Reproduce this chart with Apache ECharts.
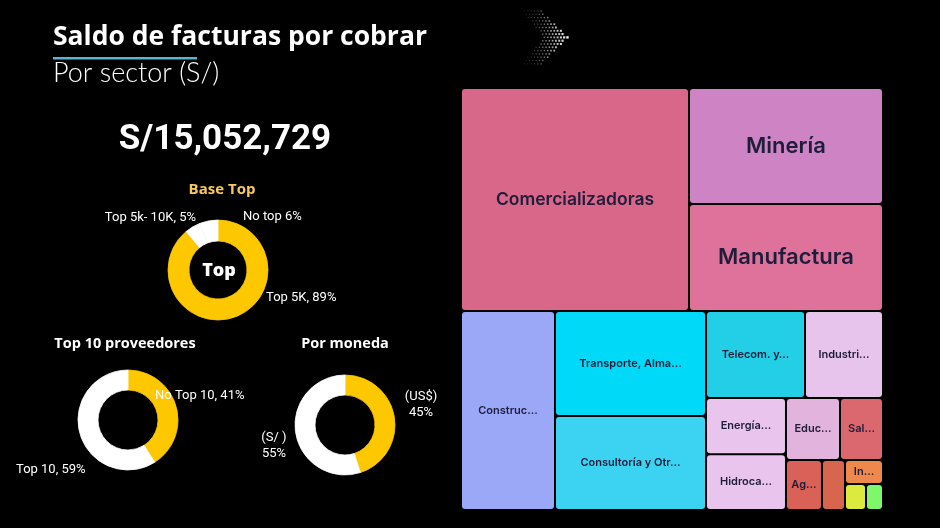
<!DOCTYPE html>
<html><head><meta charset="utf-8">
<script src="https://cdn.jsdelivr.net/npm/echarts@6.0.0/dist/echarts.min.js"></script>
<style>html,body{margin:0;padding:0;background:#000}#c{width:940px;height:528px}</style>
</head><body><div id="c"></div><script>
// ---------- DATA ----------
const totalSaldo = 15052729;

const baseTopCats = ['Top 5K', 'Top 5k- 10K', 'No top'];
const baseTopPct = [89, 5, 6];
const baseTopLabels = ['Top 5K, 89%', 'Top 5k- 10K, 5%', 'No top 6%'];

const provCats = ['No Top 10', 'Top 10'];
const provPct = [41, 59];
const provLabels = ['No Top 10, 41%', 'Top 10, 59%'];

const monedaCats = ['(US$)', '(S/ )'];
const monedaPct = [45, 55];
const monedaLabels = ['(US$)\n45%', '(S/ )\n55%'];

const sectorNames = ['Comercializadoras', 'Minería', 'Manufactura', 'Construcción',
  'Transporte, Almacenamiento', 'Consultoría y Otros', 'Telecom. y Tecnología', 'Industria',
  'Energía', 'Hidrocarburos', 'Educación', 'Salud', 'Agro', 'Pesca', 'Inmobiliaria', 'Financiero', 'Gobierno'];
const sectorLabels = ['Comercializadoras', 'Minería', 'Manufactura', 'Construc…',
  'Transporte, Alma…', 'Consultoría y Otr…', 'Telecom. y…', 'Industri…',
  'Energía…', 'Hidroca…', 'Educ…', 'Sal…', 'Ag…', '', 'In…', '', ''];
const sectorValues = [4297640, 1902180, 1754600, 1581150, 1340160, 1199760, 728020, 573590,
  380000, 377000, 283000, 225350, 152150, 97200, 77090, 46150, 37360];
// grouping of sectors (indices) into blocks of the treemap
const sectorGroups = [[0, [1, 2]], [3, [4, 5], [6, 7, 8, 9, 10, 11, 12, 13, 14, 15, 16]]];

// ---------- STYLE ----------
const sectorColors = ['#D8678A', '#CD83C4', '#DE729B', '#9BA8F8', '#00DAF8', '#3BD3F1', '#22CFE6', '#E7C4EB',
  '#E9C4EC', '#E9C4EC', '#E2B3DC', '#DB676F', '#DA6157', '#D8664F', '#EE884C', '#DCE93F', '#7FF76A'];
const bigLabelSize = {0: 17.5, 1: 22, 2: 22};
const YEL = '#FDC800';

function leaf(i) {
  return {
    name: sectorNames[i], value: sectorValues[i],
    label: { show: sectorLabels[i] !== '', formatter: sectorLabels[i], fontSize: bigLabelSize[i] || 11 },
    itemStyle: { color: sectorColors[i], borderWidth: 1, borderColor: '#000', borderRadius: 3 }
  };
}
function build(g) { return Array.isArray(g) ? { name: '', children: g.map(build) } : leaf(g); }
const treeData = sectorGroups.map(build);

// chevron decoration (halftone dots)
const chevron = [];
let row = 0;
for (let gy = 11; gy <= 64; gy += 3.3, row++) {
  for (let gx = 518 + (row % 2) * 1.65; gx <= 570; gx += 3.3) {
    const dy = Math.abs(gy - 37.5);
    const xr = 568 - dy * 1.0, xl = 543 - dy * 0.77;
    if (gx < xl || gx > xr) continue;
    const b = Math.pow((gx - 520) / 48, 1.4);
    const s = 0.8 + 1.6 * b;
    chevron.push({ type: 'rect', shape: { x: gx - s / 2, y: gy - s / 2, width: s, height: s },
      style: { fill: '#fff', opacity: 0.12 + 0.88 * b }, silent: true });
  }
}

const pieLabelFont = { color: '#fff', fontFamily: 'Roboto', fontSize: 13 };
function mkPie(center, radius, cats, vals, colors, labels, pos) {
  return {
    type: 'pie', center, radius, startAngle: 90, clockwise: true, silent: true, animation: false,
    padAngle: 0,
    data: cats.map((c, i) => ({ name: c, value: vals[i],
      itemStyle: { color: colors[i], borderColor: colors[i], borderWidth: 0.8 } })),
    label: Object.assign({ show: true, position: 'outside', lineHeight: 16, width: 160, overflow: 'none',
      formatter: p => labels[p.dataIndex] }, pieLabelFont),
    labelLine: { show: false },
    labelLayout: p => pos[p.dataIndex],
    emphasis: { disabled: true }
  };
}

const headFont = '700 14.5px "Open Sans"';
const chart = echarts.init(document.getElementById('c'), null, { renderer: 'canvas' });
chart.setOption({
  backgroundColor: '#000',
  animation: false,
  graphic: [
    { type: 'text', x: 53, y: 37, style: { text: 'Saldo de facturas por cobrar', font: '700 26.5px "Open Sans"', fill: '#fff', verticalAlign: 'middle' } },
    { type: 'rect', shape: { x: 53, y: 57, width: 144, height: 2.5 }, style: { fill: '#5AB4D4' } },
    { type: 'text', x: 53, y: 73, style: { text: 'Por sector (S/)', font: '300 27px Lato', fill: '#fff', verticalAlign: 'middle' } },
    { type: 'group', children: chevron },
    { type: 'text', x: 225, y: 140, style: { text: 'S/' + totalSaldo.toLocaleString('en-US'), font: 'bold 35px Roboto', fill: '#fff', align: 'center', verticalAlign: 'middle', shadowBlur: 8, shadowColor: 'rgba(170,170,255,0.8)' } },
    { type: 'text', x: 222, y: 190, style: { text: 'Base Top', font: '700 15px "Open Sans"', fill: '#F6C85F', align: 'center', verticalAlign: 'middle' } },
    { type: 'text', x: 219, y: 271, style: { text: 'Top', font: '800 18px "Open Sans"', fill: '#fff', align: 'center', verticalAlign: 'middle' } },
    { type: 'text', x: 125, y: 344, style: { text: 'Top 10 proveedores', font: headFont, fill: '#fff', align: 'center', verticalAlign: 'middle' } },
    { type: 'text', x: 345, y: 344, style: { text: 'Por moneda', font: headFont, fill: '#fff', align: 'center', verticalAlign: 'middle' } }
  ],
  series: [
    mkPie([218, 270], [29, 50], baseTopCats, baseTopPct, [YEL, '#FFFFFF', '#FFFFFF'], baseTopLabels, [
      { x: 266, y: 298, align: 'left', verticalAlign: 'middle' },
      { x: 196, y: 218, align: 'right', verticalAlign: 'middle' },
      { x: 243, y: 217, align: 'left', verticalAlign: 'middle' }]),
    mkPie([128, 420], [30, 50], provCats, provPct, [YEL, '#FFFFFF'], provLabels, [
      { x: 155, y: 396, align: 'left', verticalAlign: 'middle' },
      { x: 16, y: 470, align: 'left', verticalAlign: 'middle' }]),
    mkPie([345, 425], [30, 50], monedaCats, monedaPct, [YEL, '#FFFFFF'], monedaLabels, [
      { x: 421, y: 405, align: 'center', verticalAlign: 'middle' },
      { x: 274, y: 446, align: 'center', verticalAlign: 'middle' }]),
    {
      type: 'treemap', left: 461, top: 88, width: 422, height: 422,
      roam: false, nodeClick: false, sort: false, squareRatio: 0.85,
      breadcrumb: { show: false }, animation: false, silent: true,
      itemStyle: { borderWidth: 0, gapWidth: 0, borderColor: '#000' },
      label: { show: true, color: '#1E1D3A', fontFamily: 'Inter', fontWeight: 600, fontSize: 11, overflow: 'none' },
      upperLabel: { show: false },
      emphasis: { disabled: true },
      levels: [{ itemStyle: { borderWidth: 0, gapWidth: 0 } }],
      data: treeData
    }
  ]
});
</script></body></html>
